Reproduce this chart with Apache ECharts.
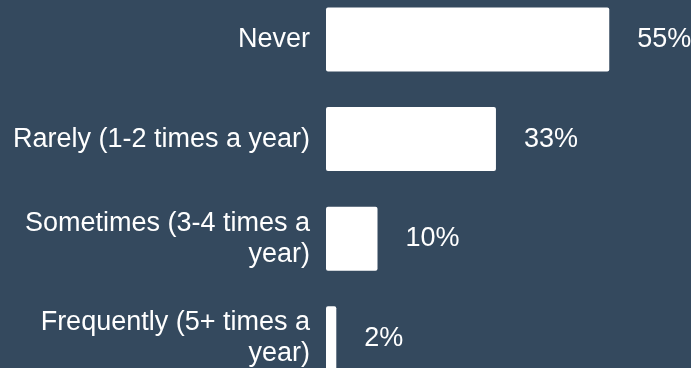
<!DOCTYPE html>
<html>
<head>
<meta charset="utf-8">
<style>
  html, body { margin: 0; padding: 0; background: #34495e; }
  #chart { width: 691px; height: 368px; }
</style>
<script src="https://cdn.jsdelivr.net/npm/echarts@6/dist/echarts.min.js"></script>
</head>
<body>
<div id="chart"></div>
<script>
// Survey answers (long ones wrapped onto two lines) and their shares (percent)
const categories = [
  'Never',
  'Rarely (1-2 times a year)',
  'Sometimes (3-4 times a\nyear)',
  'Frequently (5+ times a\nyear)'
];
const shares = [55, 33, 10, 2];

const chart = echarts.init(document.getElementById('chart'), null, { renderer: 'canvas' });

const FONT = '"Liberation Sans", Arial, sans-serif';

chart.setOption({
  backgroundColor: '#34495e',
  animation: false,
  grid: {
    left: 326,
    right: 4.5,
    top: -10.3,
    bottom: -20.1,
    outerBoundsMode: 'none',
    containLabel: false
  },
  xAxis: {
    type: 'value',
    min: 0,
    max: 70,
    show: false
  },
  yAxis: {
    type: 'category',
    inverse: true,
    data: categories,
    axisLine: { show: false },
    axisTick: { show: false },
    splitLine: { show: false },
    axisLabel: {
      margin: 16,
      color: '#ffffff',
      fontFamily: FONT,
      fontSize: 27,
      lineHeight: 31,
      align: 'right'
    }
  },
  series: [{
    type: 'bar',
    data: shares,
    barWidth: 64,
    itemStyle: { color: '#ffffff', borderRadius: 2 },
    label: {
      show: true,
      position: 'right',
      distance: 28,
      color: '#ffffff',
      fontFamily: FONT,
      fontSize: 27,
      formatter: '{c}%'
    }
  }]
});
</script>
</body>
</html>
